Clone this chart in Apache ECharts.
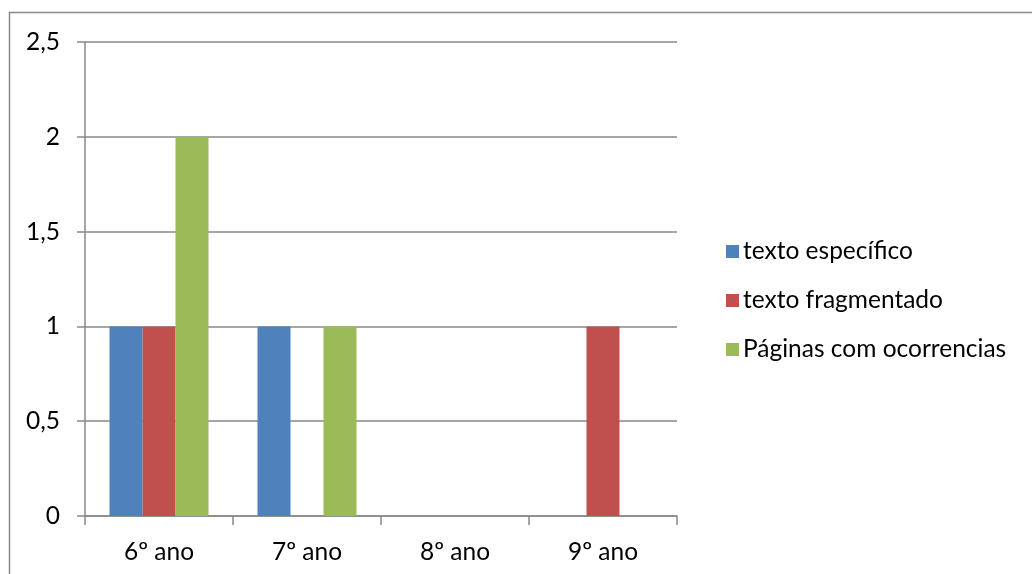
<!DOCTYPE html>
<html>
<head>
<meta charset="utf-8">
<script src="https://cdn.jsdelivr.net/npm/echarts@6/dist/echarts.min.js"></script>
<style>
  html, body { margin: 0; padding: 0; background: #fff; }
  #chart { width: 1032px; height: 574px; }
</style>
</head>
<body>
<div id="chart"></div>
<script>
// Categories (school years) and counts per series
const categories = ['6º ano', '7º ano', '8º ano', '9º ano'];
const textoEspecifico = [1, 1, 0, 0];
const textoFragmentado = [1, 0, 0, 1];
const paginasOcorrencias = [2, 1, 0, 0];
const seriesNames = ['texto específico', 'texto fragmentado', 'Páginas com ocorrencias'];

const FONT = 'Lato, "Open Sans", sans-serif';
const FONT_SIZE = 24.5;
const AXIS_GRAY = '#898989';

const chart = echarts.init(document.getElementById('chart'), null, { renderer: 'canvas' });

function barSeries(name, data, color) {
  return {
    name: name,
    type: 'bar',
    data: data,
    barWidth: 33,
    barGap: '0%',
    itemStyle: { color: color },
    emphasis: { disabled: true }
  };
}

chart.setOption({
  animation: false,
  backgroundColor: '#fff',
  textStyle: { fontFamily: FONT },
  graphic: [{
    type: 'rect',
    shape: { x: 9.5, y: 12.5, width: 1100, height: 700 },
    style: { fill: 'none', stroke: AXIS_GRAY, lineWidth: 1.5 },
    silent: true
  }],
  grid: { left: 85, right: 355, top: 42, bottom: 58, containLabel: false },
  legend: {
    orient: 'vertical',
    left: 721,
    top: 234,
    itemWidth: 13,
    itemHeight: 13,
    itemGap: 24,
    icon: 'rect',
    selectedMode: false,
    data: seriesNames,
    textStyle: { fontFamily: FONT, fontSize: FONT_SIZE, color: '#000', lineHeight: 24, padding: [0, 0, 0, -1] }
  },
  xAxis: {
    type: 'category',
    data: categories,
    axisLine: { show: true, lineStyle: { color: AXIS_GRAY, width: 1.5 } },
    axisTick: { show: true, length: 9, alignWithLabel: false, lineStyle: { color: AXIS_GRAY, width: 1.5 } },
    axisLabel: { fontFamily: FONT, fontSize: FONT_SIZE, color: '#000', margin: 24 },
    splitLine: { show: false }
  },
  yAxis: {
    type: 'value',
    min: 0,
    max: 2.5,
    interval: 0.5,
    axisLine: { show: true, lineStyle: { color: AXIS_GRAY, width: 1.5 } },
    axisTick: { show: true, length: 8, lineStyle: { color: AXIS_GRAY, width: 1.5 } },
    axisLabel: {
      fontFamily: FONT, fontSize: FONT_SIZE, color: '#000', margin: 25,
      formatter: v => String(v).replace('.', ',')
    },
    splitLine: { show: true, lineStyle: { color: AXIS_GRAY, width: 1.5 } }
  },
  series: [
    barSeries(seriesNames[0], textoEspecifico, '#4F81BD'),
    barSeries(seriesNames[1], textoFragmentado, '#C0504D'),
    barSeries(seriesNames[2], paginasOcorrencias, '#9BBB59')
  ]
});
</script>
</body>
</html>
